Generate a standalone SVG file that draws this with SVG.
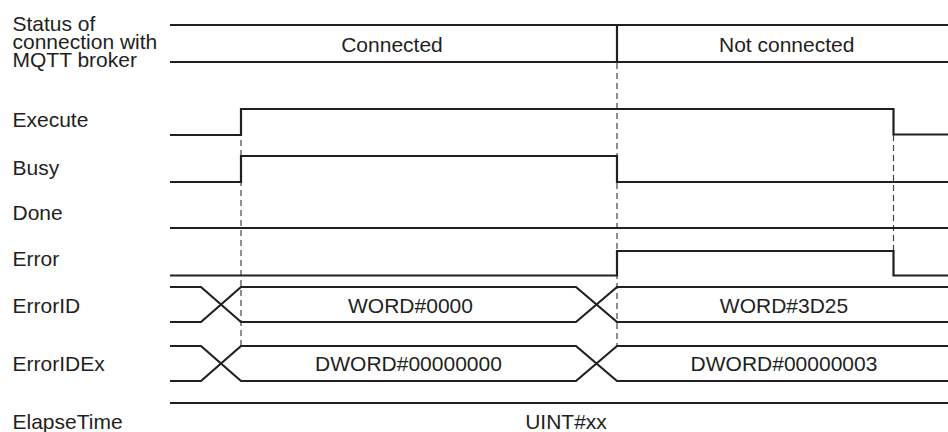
<svg xmlns="http://www.w3.org/2000/svg" width="948" height="432" viewBox="0 0 948 432">
<style>
text{font-family:"Liberation Sans",Arial,sans-serif;font-size:21px;fill:#231f20}
.c{text-anchor:middle}
.w{fill:none;stroke:#231f20;stroke-width:2.2;stroke-linejoin:miter}
.d{fill:none;stroke:#444;stroke-width:1.2;stroke-dasharray:6,4}
</style>
<rect width="948" height="432" fill="#fff"/>
<g id="labels">
<text x="12.5" y="31"><tspan x="12.5" y="31">Status of</tspan><tspan x="12.5" y="49">connection with</tspan><tspan x="12.5" y="67">MQTT broker</tspan></text>
<text x="12.5" y="127">Execute</text>
<text x="12.5" y="175">Busy</text>
<text x="12.5" y="220">Done</text>
<text x="12.5" y="266">Error</text>
<text x="12.5" y="313">ErrorID</text>
<text x="12.5" y="371">ErrorIDEx</text>
<text x="12.5" y="429">ElapseTime</text>
</g>
<g id="connectors">
<path class="d" d="M241,110 V346"/>
<path class="d" d="M617,63 V346"/>
<path class="d" d="M893.5,135 V251"/>
</g>
<g id="status">
<path class="w" d="M170,25 H948 M170,62 H948 M617,25 V62"/>
<text class="c" x="392" y="52">Connected</text>
<text class="c" x="786.7" y="52">Not connected</text>
</g>
<g id="execute"><path class="w" d="M170,135 H241 V109 H893.5 V134.5 H948"/></g>
<g id="busy"><path class="w" d="M170,182 H241 V156 H617 V182 H948"/></g>
<g id="done"><path class="w" d="M170,228 H948"/></g>
<g id="error"><path class="w" d="M170,275.5 H617 V251 H893.5 V275.5 H948"/></g>
<g id="errorid">
<path class="w" d="M170,287 H201 L241,322 H576 L617,287 H948"/>
<path class="w" d="M170,322 H201 L241,287 H576 L617,322 H948"/>
<text class="c" x="410.5" y="313">WORD#0000</text>
<text class="c" x="784" y="312.5">WORD#3D25</text>
</g>
<g id="erroridex">
<path class="w" d="M170,346 H201 L241,381 H576 L617,346 H948"/>
<path class="w" d="M170,381 H201 L241,346 H576 L617,381 H948"/>
<text class="c" x="408.5" y="371">DWORD#00000000</text>
<text class="c" x="784" y="371">DWORD#00000003</text>
</g>
<g id="elapsetime">
<path class="w" d="M170,403 H948"/>
<text class="c" x="566" y="429">UINT#xx</text>
</g>
</svg>
